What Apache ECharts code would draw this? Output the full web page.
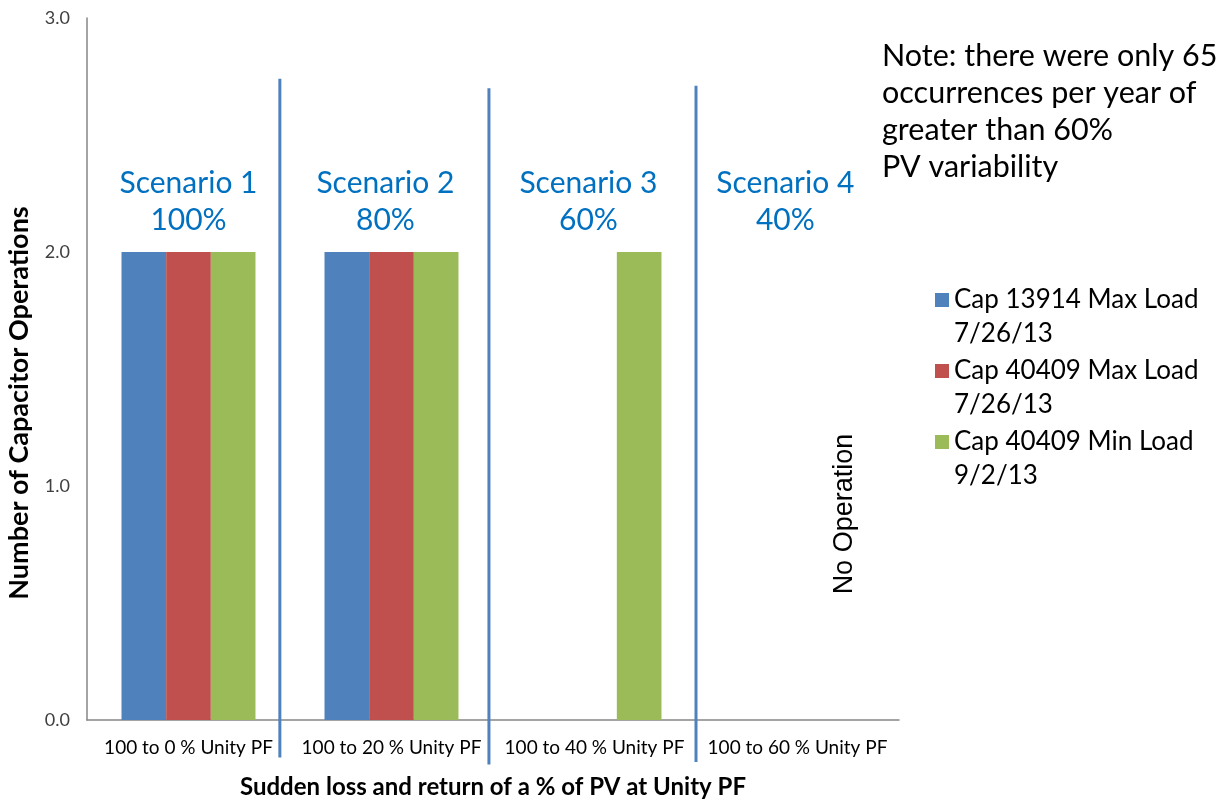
<!DOCTYPE html>
<html>
<head>
<meta charset="utf-8">
<script src="https://cdn.jsdelivr.net/npm/echarts@6/dist/echarts.min.js"></script>
<style>
html, body { margin: 0; padding: 0; background: #fff; }
#container { width: 1227px; height: 801px; }
</style>
</head>
<body>
<div id="container"></div>
<script>
var categories = ['100 to 0 % Unity PF', '100 to 20 % Unity PF', '100 to 40 % Unity PF', '100 to 60 % Unity PF'];
var seriesNames = ['Cap 13914 Max Load\n7/26/13', 'Cap 40409 Max Load\n7/26/13', 'Cap 40409 Min Load\n9/2/13'];
var cap13914Max = [2, 2, 0, 0];
var cap40409Max = [2, 2, 0, 0];
var cap40409Min = [2, 2, 2, 0];
var yTicks = [0, 1, 2, 3];
var scenarioLabels = ['Scenario 1\n100%', 'Scenario 2\n80%', 'Scenario 3\n60%', 'Scenario 4\n40%'];
// separators drawn by hand in the original (category units, value units)
var sepX = [0.95, 1.98, 3.0];
var sepTop = [2.74, 2.70, 2.71];
var sepBottom = [-0.16, -0.19, -0.18];
var scenarioX = [0.5, 1.47, 2.47, 3.44];
var noteText = 'Note: there were only 65\noccurrences per year of\ngreater than 60%\nPV variability';

var font = 'Lato';
var dom = document.getElementById('container');
var myChart = echarts.init(dom);

var option = {
	animation: false,
	color: ['#4F81BD', '#C0504D', '#9BBB59'],
	textStyle: { fontFamily: font },
	grid: { left: 87, right: 328, top: 18, bottom: 81, outerBoundsMode: 'none', containLabel: false },
	legend: {
		orient: 'vertical',
		left: 930,
		top: 244,
		itemWidth: 14,
		itemHeight: 14,
		itemGap: -31,
		icon: 'rect',
		data: seriesNames,
		formatter: function(name) { return '\n' + name; },
		textStyle: { fontSize: 26, lineHeight: 34, color: '#000', fontFamily: font }
	},
	xAxis: [{
		type: 'category',
		data: categories,
		axisLine: { lineStyle: { color: '#868686', width: 1.5 } },
		axisTick: { show: false },
		axisLabel: { fontSize: 19, color: '#000', margin: 18, interval: 0 },
		name: 'Sudden loss and return of a % of PV at Unity PF',
		nameLocation: 'middle',
		nameGap: 55,
		nameTextStyle: { fontSize: 24, fontWeight: 'bold', color: '#000' }
	}, {
		type: 'value',
		min: 0,
		max: 4,
		show: false
	}],
	yAxis: {
		type: 'value',
		min: yTicks[0],
		max: yTicks[yTicks.length - 1],
		interval: 1,
		axisLine: { show: true, lineStyle: { color: '#868686', width: 1.5 } },
		axisTick: { show: false },
		splitLine: { show: false },
		axisLabel: { fontSize: 18, color: '#404040', margin: 17, formatter: function(v) { return v.toFixed(1); } },
		name: 'Number of Capacitor Operations',
		nameLocation: 'middle',
		nameGap: 54,
		nameTextStyle: { fontSize: 27, fontWeight: 'bold', color: '#000', padding: [0, 68, 0, 0] }
	},
	series: [
		{ name: seriesNames[0], type: 'bar', data: cap13914Max, barGap: '0%', barCategoryGap: '34%' },
		{ name: seriesNames[1], type: 'bar', data: cap40409Max, barGap: '0%', barCategoryGap: '34%' },
		{ name: seriesNames[2], type: 'bar', data: cap40409Min, barGap: '0%', barCategoryGap: '34%' }
	]
};
myChart.setOption(option);

function px(x, y) {
	return myChart.convertToPixel({ xAxisIndex: 1, yAxisIndex: 0 }, [x, y]);
}

var graphics = [];
for (var i = 0; i < sepX.length; i++) {
	var a = px(sepX[i], sepTop[i]);
	var b = px(sepX[i], sepBottom[i]);
	graphics.push({
		type: 'line',
		shape: { x1: a[0], y1: a[1], x2: b[0], y2: b[1] },
		style: { stroke: '#4F81BD', lineWidth: 3 },
		z: 10
	});
}
for (var j = 0; j < scenarioLabels.length; j++) {
	var c = px(scenarioX[j], 2.216);
	graphics.push({
		type: 'text',
		x: c[0],
		y: c[1],
		style: {
			text: scenarioLabels[j],
			fill: '#0070C0',
			font: '30px ' + font,
			lineHeight: 37,
			align: 'center',
			verticalAlign: 'middle'
		}
	});
}
graphics.push({
	type: 'text',
	left: 882,
	top: 38,
	style: { text: noteText, fill: '#000', font: '30.5px ' + font, lineHeight: 37 }
});
var n = px(3.73, 0.88);
graphics.push({
	type: 'text',
	x: n[0],
	y: n[1],
	rotation: Math.PI / 2,
	style: { text: 'No Operation', fill: '#000', font: '27px "Liberation Sans"', align: 'center', verticalAlign: 'middle' }
});
myChart.setOption({ graphic: graphics });
</script>
</body>
</html>
